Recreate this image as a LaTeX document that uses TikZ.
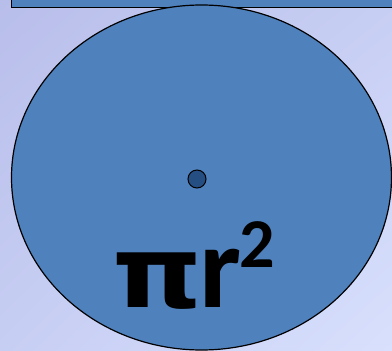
\documentclass[tikz,border=0pt]{standalone}
\usepackage{fontspec}
\usetikzlibrary{shadings}
\newfontfamily\carlito{Carlito}
\newfontfamily\dsans{DejaVu Sans}
\definecolor{bgA}{HTML}{B8BEEA}
\definecolor{bgM}{HTML}{C7CEF3}
\definecolor{bgB}{HTML}{D8E0FD}
\definecolor{shapeblue}{HTML}{4F81BD}
\definecolor{dotblue}{HTML}{254E82}
\tikzset{
  shapebox/.style={fill=shapeblue, draw=black, line width=1.2pt},
  bigtext/.style={inner sep=0pt, font=\carlito\bfseries\fontsize{118}{118}\selectfont}
}
\begin{document}
\begin{tikzpicture}[x=1pt,y=-1pt]
\useasboundingbox (0,0) rectangle (392,351);
\shade[upper left=bgA, upper right=bgM, lower left=bgM, lower right=bgB] (0,0) rectangle (392,351);
\draw[shapebox] (11.5,-10) rectangle (400,7.5);
\draw[shapebox] (201.5,177.5) ellipse [x radius=190, y radius=172.5];
\node[circle, fill=dotblue, draw=black, line width=1pt, minimum size=18pt, inner sep=0pt] (dot) at (197,179) {};
\node[bigtext, anchor=base west] (formula) at (112,307) {\scalebox{1.14}[1]{\dsans\fontsize{100}{100}\selectfont π}\kern-3pt r\kern-2pt\raisebox{40pt}{\fontsize{70}{70}\selectfont 2}};
\end{tikzpicture}
\end{document}
